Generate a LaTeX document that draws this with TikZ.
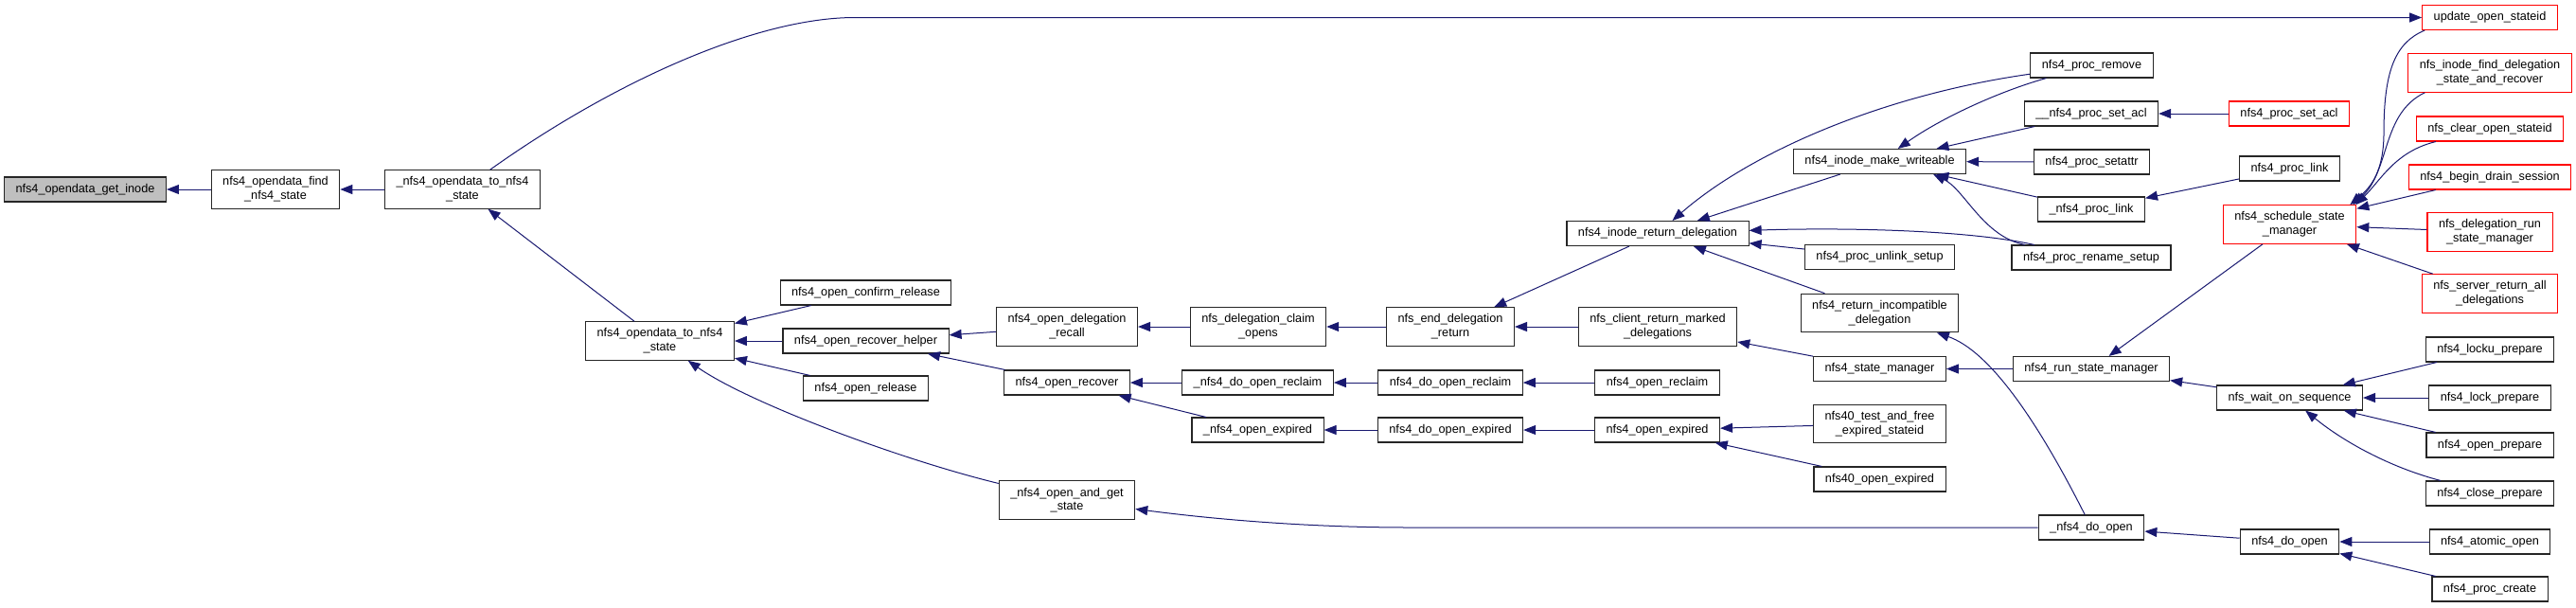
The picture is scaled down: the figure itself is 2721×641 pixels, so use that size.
\documentclass[tikz,border=0pt]{standalone}
\usepackage{fontspec}
\setmainfont{Liberation Sans}
\usepackage{tikz}
\usetikzlibrary{arrows.meta}
\definecolor{edgeblue}{RGB}{25,25,112}
\definecolor{basegray}{RGB}{191,191,191}
\definecolor{markred}{RGB}{255,0,0}

\begin{document}
\begin{tikzpicture}[x=1pt,y=-1pt,
  fn/.style={draw=black!85,line width=1.1pt,fill=white,align=center,
             font=\fontsize{12.7}{14.7}\selectfont,inner xsep=12pt,inner ysep=7pt,
             minimum height=26pt},
  hot/.style={fn,draw=markred},
  arr/.style={{Triangle[length=13pt,width=10pt]}-,line width=1pt,color=edgeblue}]
  \useasboundingbox (0,0) rectangle (2721,641);
  % rank 0-3
  \node[fn,fill=basegray] (get) at (90,200)    {nfs4\_opendata\_get\_inode};
  \node[fn] (find)      at (291,200)   {nfs4\_opendata\_find\\\_nfs4\_state};
  \node[fn] (uto)       at (488.5,200) {\_nfs4\_opendata\_to\_nfs4\\\_state};
  \node[fn] (to)        at (697,360)   {nfs4\_opendata\_to\_nfs4\\\_state};
  % rank 4
  \node[fn] (confirm)   at (914.5,309) {nfs4\_open\_confirm\_release};
  \node[fn] (helper)    at (914.5,360) {nfs4\_open\_recover\_helper};
  \node[fn] (release)   at (914.5,410) {nfs4\_open\_release};
  % rank 5
  \node[fn] (recall)    at (1127,345)  {nfs4\_open\_delegation\\\_recall};
  \node[fn] (recover)   at (1127,404)  {nfs4\_open\_recover};
  \node[fn] (getstate)  at (1127,528)  {\_nfs4\_open\_and\_get\\\_state};
  % rank 6
  \node[fn] (claim)     at (1329,345)  {nfs\_delegation\_claim\\\_opens};
  \node[fn] (udoreclaim) at (1328.5,404) {\_nfs4\_do\_open\_reclaim};
  \node[fn] (uopenexp)  at (1328.5,454) {\_nfs4\_open\_expired};
  % rank 7
  \node[fn] (enddeleg)  at (1532,345)  {nfs\_end\_delegation\\\_return};
  \node[fn] (doreclaim) at (1532,404)  {nfs4\_do\_open\_reclaim};
  \node[fn] (doexp)     at (1532,454)  {nfs4\_do\_open\_expired};
  % rank 8
  \node[fn] (iretdeleg) at (1751,246.5) {nfs4\_inode\_return\_delegation};
  \node[fn] (marked)    at (1751,345)  {nfs\_client\_return\_marked\\\_delegations};
  \node[fn] (openreclaim) at (1750.5,404) {nfs4\_open\_reclaim};
  \node[fn] (openexp)   at (1750.5,454) {nfs4\_open\_expired};
  % rank 9
  \node[fn] (mkwrite)   at (1985.5,170.5) {nfs4\_inode\_make\_writeable};
  \node[fn] (unlink)    at (1985.5,271.5) {nfs4\_proc\_unlink\_setup};
  \node[fn] (incompat)  at (1985.5,330.5) {nfs4\_return\_incompatible\\\_delegation};
  \node[fn] (statemgr)  at (1985.5,389.5) {nfs4\_state\_manager};
  \node[fn] (testfree)  at (1985.5,447.5) {nfs40\_test\_and\_free\\\_expired\_stateid};
  \node[fn] (v40exp)    at (1985.5,506)   {nfs40\_open\_expired};
  % rank 10
  \node[fn] (premove)   at (2209.5,69)  {nfs4\_proc\_remove};
  \node[fn] (usetacl)   at (2209,120)   {\_\_nfs4\_proc\_set\_acl};
  \node[fn] (setattr)   at (2209.5,171) {nfs4\_proc\_setattr};
  \node[fn] (uplink)    at (2209,221)   {\_nfs4\_proc\_link};
  \node[fn] (rename)    at (2209,272)   {nfs4\_proc\_rename\_setup};
  \node[fn] (runmgr)    at (2209,389.5) {nfs4\_run\_state\_manager};
  \node[fn] (udoopen)   at (2209,557)   {\_nfs4\_do\_open};
  % rank 11
  \node[hot] (setacl)   at (2418,120)   {nfs4\_proc\_set\_acl};
  \node[fn] (plink)     at (2418.5,178) {nfs4\_proc\_link};
  \node[hot] (sched)    at (2418.5,237) {nfs4\_schedule\_state\\\_manager};
  \node[fn] (waitseq)   at (2418.5,420) {nfs\_wait\_on\_sequence};
  \node[fn] (doopen)    at (2418.5,572) {nfs4\_do\_open};
  % rank 12
  \node[hot] (upd)      at (2630,18.5) {update\_open\_stateid};
  \node[hot] (finddeleg) at (2630,77)  {nfs\_inode\_find\_delegation\\\_state\_and\_recover};
  \node[hot] (clearsid) at (2630,136)  {nfs\_clear\_open\_stateid};
  \node[hot] (drain)    at (2630,187)  {nfs4\_begin\_drain\_session};
  \node[hot] (delegrun) at (2630,245)  {nfs\_delegation\_run\\\_state\_manager};
  \node[hot] (srvret)   at (2630,310)  {nfs\_server\_return\_all\\\_delegations};
  \node[fn] (locku)     at (2630,369)  {nfs4\_locku\_prepare};
  \node[fn] (lockp)     at (2630,420)  {nfs4\_lock\_prepare};
  \node[fn] (openp)     at (2630,470)  {nfs4\_open\_prepare};
  \node[fn] (closep)    at (2630,521)  {nfs4\_close\_prepare};
  \node[fn] (atomic)    at (2630,572)  {nfs4\_atomic\_open};
  \node[fn] (create)    at (2630,622)  {nfs4\_proc\_create};

  % calls, arrow at the callee
  \draw[arr] (get) -- (find);
  \draw[arr] (find) -- (uto);
  \draw[arr] (uto) -- (to);
  \draw[arr] (upd) -- (903,18.5) .. controls (800,18.5) and (650,85) .. (uto);
  \draw[arr] (to) -- (confirm);
  \draw[arr] (to) -- (helper);
  \draw[arr] (to) -- (release);
  \draw[arr] (to) .. controls (790,425) and (950,485) .. (getstate);
  \draw[arr] (helper) -- (recall);
  \draw[arr] (helper) -- (recover);
  \draw[arr] (recall) -- (claim);
  \draw[arr] (claim) -- (enddeleg);
  \draw[arr] (enddeleg) -- (marked);
  \draw[arr] (enddeleg) -- (iretdeleg);
  \draw[arr] (recover) -- (udoreclaim);
  \draw[arr] (recover) -- (uopenexp);
  \draw[arr] (udoreclaim) -- (doreclaim);
  \draw[arr] (doreclaim) -- (openreclaim);
  \draw[arr] (uopenexp) -- (doexp);
  \draw[arr] (doexp) -- (openexp);
  \draw[arr] (openexp) -- (testfree);
  \draw[arr] (openexp) -- (v40exp);
  \draw[arr] (getstate) .. controls (1280,548) and (1380,557) .. (1489,557) -- (udoopen);
  \draw[arr] (iretdeleg) -- (mkwrite);
  \draw[arr] (iretdeleg) .. controls (1850,160) and (1990,100) .. (premove);
  \draw[arr] (iretdeleg) -- (unlink);
  \draw[arr] (iretdeleg) .. controls (1950,240) and (2080,243) .. (rename);
  \draw[arr] (iretdeleg) -- (incompat);
  \draw[arr] (mkwrite) .. controls (2050,125) and (2110,97) .. (premove);
  \draw[arr] (mkwrite) -- (usetacl);
  \draw[arr] (mkwrite) -- (setattr);
  \draw[arr] (mkwrite) -- (uplink);
  \draw[arr] ([xshift=-35pt]mkwrite.south east) .. controls (2075,200) and (2095,250) .. (rename);
  \draw[arr] (usetacl) -- (setacl);
  \draw[arr] (uplink) -- (plink);
  \draw[arr] (incompat) .. controls (2100,370) and (2150,440) .. (udoopen);
  \draw[arr] (marked) -- (statemgr);
  \draw[arr] (statemgr) -- (runmgr);
  \draw[arr] (runmgr) -- (sched);
  \draw[arr] (runmgr) -- (waitseq);
  \draw[arr] (waitseq) -- (locku);
  \draw[arr] (waitseq) -- (lockp);
  \draw[arr] (waitseq) -- (openp);
  \draw[arr] (waitseq) .. controls (2480,470) and (2530,495) .. (closep);
  \draw[arr] (udoopen) -- (doopen);
  \draw[arr] (doopen) -- (atomic);
  \draw[arr] (doopen) -- (create);
  % into the state manager
  \draw[arr] ([xshift=-7pt]sched.north east) .. controls (2505,197) and (2518,180) .. (2518,140)
             .. controls (2518,75) and (2530,45) .. ([xshift=3pt]upd.south west);
  \draw[arr] ([xshift=-4pt]sched.north east) .. controls (2525,180) and (2515,120) .. ([xshift=18pt]finddeleg.south west);
  \draw[arr] ([xshift=-1pt]sched.north east) .. controls (2515,190) and (2530,160) .. ([xshift=21pt]clearsid.south west);
  \draw[arr] (sched) -- (drain);
  \draw[arr] (sched) -- (delegrun);
  \draw[arr] (sched) -- (srvret);
\end{tikzpicture}
\end{document}
